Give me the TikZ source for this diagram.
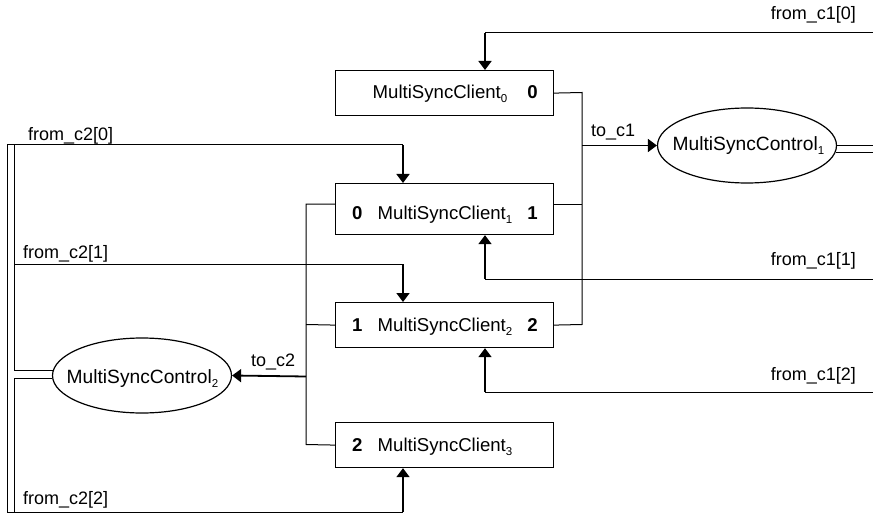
\documentclass[tikz,border=0pt]{standalone}
\usepackage{fontspec}
\setmainfont{Liberation Sans}
\usetikzlibrary{arrows.meta,shapes.geometric,calc}
\newcommand\lowidx[1]{\raisebox{-4pt}{\fontsize{11.5}{11.5}\selectfont #1}}
\tikzset{
  clientbox/.style={draw, line width=1.2pt, minimum width=218pt, minimum height=45pt, inner sep=0pt, anchor=north west},
  ctrlnode/.style={draw, ellipse, line width=1.2pt, minimum width=179pt, minimum height=75pt, inner sep=0pt},
  txt/.style={inner sep=0pt, font=\fontsize{18}{18}\selectfont},
  nametxt/.style={inner sep=0pt, font=\fontsize{18.6}{18.6}\selectfont},
  ctrltxt/.style={inner sep=0pt, font=\fontsize{19.2}{19.2}\selectfont},
  wire/.style={line width=1pt},
  feed/.style={line width=1.8pt, -{Triangle[length=9pt,width=13pt]}},
}
\begin{document}
\begin{tikzpicture}[x=1pt,y=-1pt]
\useasboundingbox (0,0) rectangle (873,516);
\coordinate (R) at (873,0);
% client boxes
\node[clientbox] (c0) at (335,70) {};
\node[clientbox, minimum height=51pt] (c1) at (335,183) {};
\node[clientbox] (c2) at (335,302) {};
\node[clientbox] (c3) at (335,422) {};
% controllers
\node[ctrlnode] (e1) at (747,145.5) {};
\node[ctrlnode] (e2) at (142,375.5) {};
% texts inside
\node[nametxt, anchor=base west] (t0) at (372.5,99) {MultiSyncClient\lowidx{0}};
\node[nametxt, anchor=base east] (r0) at (538,99) {\textbf{0}};
\node[nametxt, anchor=base west] (l1) at (352,219) {\textbf{0}};
\node[nametxt, anchor=base west] (t1) at (377.5,219) {MultiSyncClient\lowidx{1}};
\node[nametxt, anchor=base east] (r1) at (538,219) {\textbf{1}};
\node[nametxt, anchor=base west] (l2) at (352,331.5) {\textbf{1}};
\node[nametxt, anchor=base west] (t2) at (377.5,331.5) {MultiSyncClient\lowidx{2}};
\node[nametxt, anchor=base east] (r2) at (538,331.5) {\textbf{2}};
\node[nametxt, anchor=base west] (l3) at (352,451.5) {\textbf{2}};
\node[nametxt, anchor=base west] (t3) at (377.5,451.5) {MultiSyncClient\lowidx{3}};
\node[ctrltxt, anchor=base west] (te1) at (672.5,151) {MultiSyncControl\lowidx{1}};
\node[ctrltxt, anchor=base west] (te2) at (66.5,383) {MultiSyncControl\lowidx{2}};
% labels
\node[txt, anchor=base east] (f10) at (856,20) {from\_c1[0]};
\node[txt, anchor=base east] (f11) at (856,265) {from\_c1[1]};
\node[txt, anchor=base east] (f12) at (856,380) {from\_c1[2]};
\node[txt, anchor=base west] (f20) at (28,141) {from\_c2[0]};
\node[txt, anchor=base west] (f21) at (23,258) {from\_c2[1]};
\node[txt, anchor=base west] (f22) at (23,504) {from\_c2[2]};
\node[txt, anchor=base west] (tc1) at (591,137) {to\_c1};
\node[txt, anchor=base west] (tc2) at (251,366) {to\_c2};
% bus to controller 1
\coordinate (b1a) at (582,92.5);
\coordinate (b1b) at (582,204);
\coordinate (b1c) at (582,324.5);
\coordinate (j1) at (582,145.5);
\draw[wire] (c0.east) -- (b1a) -- (b1c) -- (c2.east);
\draw[wire] (b1b) -- (b1b -| c1.east);
\draw[feed] (j1) -- (e1.west);
\draw[wire] (e1.east) -- (e1.east -| R);
\draw[wire] ([xshift=-1.6pt,yshift=-7pt]e1.east) -- ([yshift=-7pt]e1.east -| R);
% bus to controller 2
\coordinate (b2a) at (306,204);
\coordinate (b2b) at (306,324.5);
\coordinate (b2c) at (306,444.5);
\coordinate (j2) at (306,376.5);
\draw[wire] (b2a -| c1.west) -- (b2a) -- (b2c) -- (c3.west);
\draw[wire] (b2b) -- (c2.west);
\draw[feed] (j2) -- (e2.east);
% from controller 1
\coordinate (a0) at (485,33);
\coordinate (a1) at (485,279);
\coordinate (a2) at (485,392);
\draw[wire] (a0 -| R) -- (a0);
\draw[feed] (a0) -- (a0 |- c0.north);
\draw[wire] (a1 -| R) -- (a1);
\draw[feed] (a1) -- (a1 |- c1.south);
\draw[wire] (a2 -| R) -- (a2);
\draw[feed] (a2) -- (a2 |- c2.south);
% from controller 2
\coordinate (o1) at (7,145);
\coordinate (o2) at (7,512);
\coordinate (i1) at (14,145);
\coordinate (i2) at (14,370);
\coordinate (i3) at (14,378);
\coordinate (i4) at (14,512);
\coordinate (i5) at (14,264);
\coordinate (k0) at (403,145);
\coordinate (k1) at (403,264);
\coordinate (k2) at (403,512);
\draw[wire] (o1) -- (o2);
\draw[wire] (i1) -- (i2) -- ([xshift=1pt]i2 -| e2.west);
\draw[wire] ([xshift=0.2pt]i3 -| e2.west) -- (i3) -- (i4);
\draw[wire] (o1) -- (k0);
\draw[feed] (k0) -- (k0 |- c1.north);
\draw[wire] (i5) -- (k1);
\draw[feed] (k1) -- (k1 |- c2.north);
\draw[wire] (o2) -- (k2);
\draw[feed] (k2) -- (k2 |- c3.south);
\end{tikzpicture}
\end{document}
